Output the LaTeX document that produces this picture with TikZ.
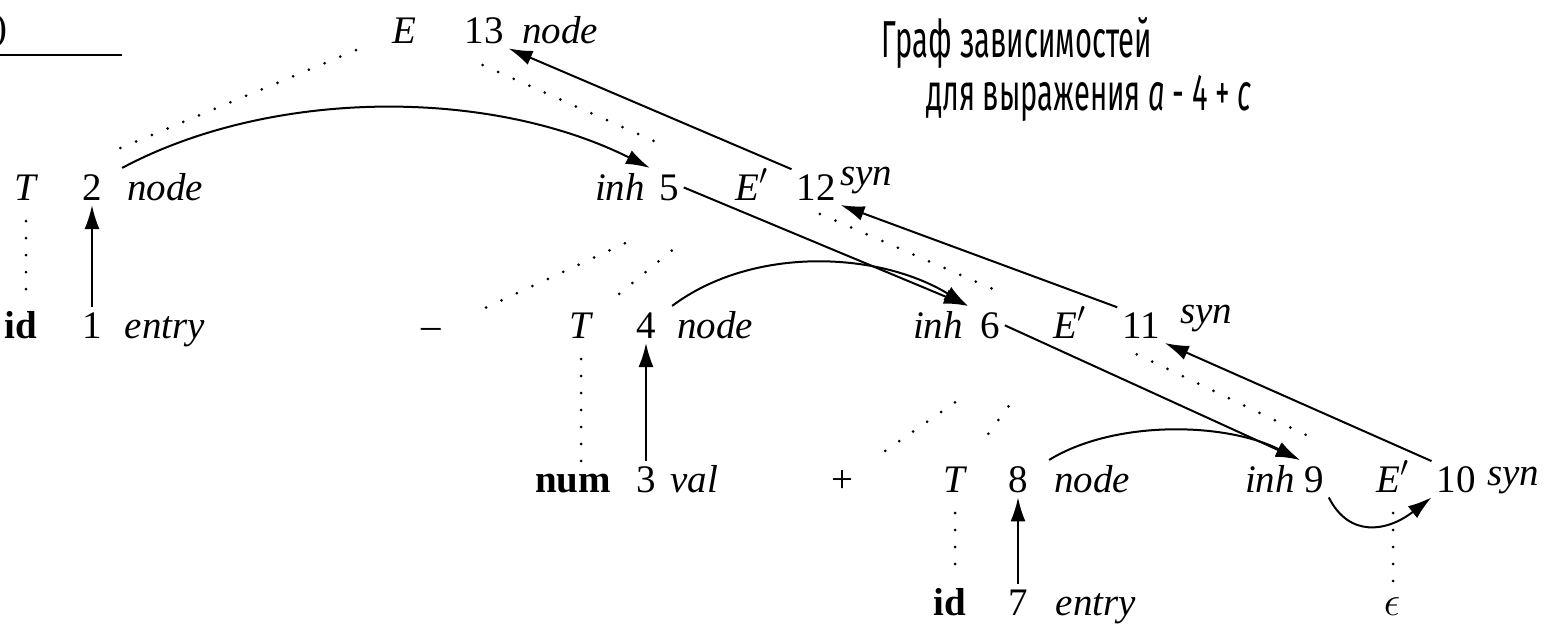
\documentclass[tikz,border=0pt]{standalone}
\usepackage{fontspec}
\setmainfont{Liberation Serif}
\newfontfamily\titlefont[FakeStretch=0.56]{Fira Sans}
\usetikzlibrary{arrows.meta}

\begin{document}
\begin{tikzpicture}[
    x=0.5pt, y=-0.5pt,
    font=\fontsize{19.5}{22}\selectfont,
    >={Latex[length=12pt,width=7.5pt]},
    line width=1pt,
    lab/.style={inner sep=2pt, anchor=base},
    attr/.style={lab, font=\fontsize{19.5}{22}\selectfont\itshape},
    dep/.style={->},
    tree/.style={line width=1.5pt, line cap=round, dash pattern=on 0pt off 8.5pt},
    head/.style={inner sep=0, anchor=base west, font=\titlefont\fontsize{26}{30}\selectfont}
  ]
  \useasboundingbox (0,0) rectangle (1550,632);

  % caption remains
  \node[inner sep=0, anchor=base east] (capt) at (8,40) {)};
  \draw (0,55) -- (122,55);

  % title
  \node[head] (title1) at (880,57)  {Граф зависимостей};
  \node[head] (title2) at (925,110) {для выражения \textit{a} - 4 + \textit{c}};

  % row 0
  \node[lab]  (E13) at (404,43) {\textit{E}};
  \node[lab]  (n13) at (484,43) {13};
  \node[attr] (a13) at (560,43) {node};

  % row 1
  \node[lab]  (T2)  at (26,200)  {\textit{T}};
  \node[lab]  (n2)  at (92,200)  {2};
  \node[attr] (a2)  at (165,200) {node};
  \node[attr] (i5)  at (620,200) {inh};
  \node[lab]  (n5)  at (669,200) {5};
  \node[lab]  (E12) at (752,200) {\textit{E}$'$};
  \node[lab]  (n12) at (816,200) {12};
  \node[attr] (s12) at (866,185) {syn};

  % row 2
  \node[lab]  (id1)   at (21,338)   {\textbf{id}};
  \node[lab]  (n1)    at (92,338)   {1};
  \node[attr] (a1)    at (165,338)  {entry};
  \node[lab]  (minus) at (431,338)  {--};
  \node[lab]  (T4)    at (581,338)  {\textit{T}};
  \node[lab]  (n4)    at (646,338)  {4};
  \node[attr] (a4)    at (715,338)  {node};
  \node[attr] (i6)    at (938,338)  {inh};
  \node[lab]  (n6)    at (990,338)  {6};
  \node[lab]  (E11)   at (1070,338) {\textit{E}$'$};
  \node[lab]  (n11)   at (1141,338) {11};
  \node[attr] (s11)   at (1206,323) {syn};

  % row 3
  \node[lab]  (num3) at (573,492)  {\textbf{num}};
  \node[lab]  (n3)   at (646,492)  {3};
  \node[attr] (a3)   at (694,492)  {val};
  \node[lab]  (plus) at (842,492)  {+};
  \node[lab]  (T8)   at (955,492)  {\textit{T}};
  \node[lab]  (n8)   at (1018,492) {8};
  \node[attr] (a8)   at (1092,492) {node};
  \node[attr] (i9)   at (1270,492) {inh};
  \node[lab]  (n9)   at (1314,492) {9};
  \node[lab]  (E10)  at (1393,492) {\textit{E}$'$};
  \node[lab]  (n10)  at (1456,492) {10};
  \node[attr] (s10)  at (1513,485) {syn};

  % row 4
  \node[lab]  (id7) at (950,615)  {\textbf{id}};
  \node[lab]  (n7)  at (1018,615) {7};
  \node[attr] (a7)  at (1096,615) {entry};
  \node[lab]  (eps) at (1392,615) {$\epsilon$};

  % parse tree (dotted)
  \draw[tree, shorten <=26pt, shorten >=51pt] (E13.center) -- (T2.center);
  \draw[tree, shorten <=43pt, shorten >=48pt] (E13.center) -- (E12.center);
  \draw[tree, shorten <=70pt, shorten >=23pt] (E12.center) -- (minus.center);
  \draw[tree, shorten <=52pt, shorten >=22pt] (E12.center) -- (T4.center);
  \draw[tree, shorten <=37pt, shorten >=40pt] (E12.center) -- (E11.center);
  \draw[tree, shorten <=70pt, shorten >=24pt] (E11.center) -- (plus.center);
  \draw[tree, shorten <=52pt, shorten >=26pt] (E11.center) -- (T8.center);
  \draw[tree, shorten <=37pt, shorten >=43pt] (E11.center) -- (E10.center);
  \foreach \a/\b in {T2/id1, T4/num3, T8/id7, E10/eps}
    \draw[tree, shorten <=8pt, shorten >=3pt] (\a.south) -- (\a.south |- \b.north);

  % dependency edges
  \foreach \a/\b in {n1/n2, n3/n4, n7/n8}
    \draw[dep] (\a) -- (\b);
  \draw[dep] (a2.north west) .. controls +(150,-80) and +(-160,-80) .. (i5.north east);
  \draw[dep] (a4.north west) .. controls +(80,-60) and +(-90,-55) .. (i6.north east);
  \draw[dep] (a8.north west) .. controls +(65,-40) and +(-75,-38) .. (i9.north east);
  \draw[dep] (n5.east) -- (i6.north east);
  \draw[dep] (n6.east) -- (i9.north east);
  \draw[dep] (n9.south east) .. controls +(20,40) and +(-45,35) .. (n10.south west);
  \draw[dep] (n10.north west) -- (n11.south east);
  \draw[dep] (n11.north west) -- (n12.south east);
  \draw[dep] (n12.north west) -- (n13.south east);
\end{tikzpicture}
\end{document}
